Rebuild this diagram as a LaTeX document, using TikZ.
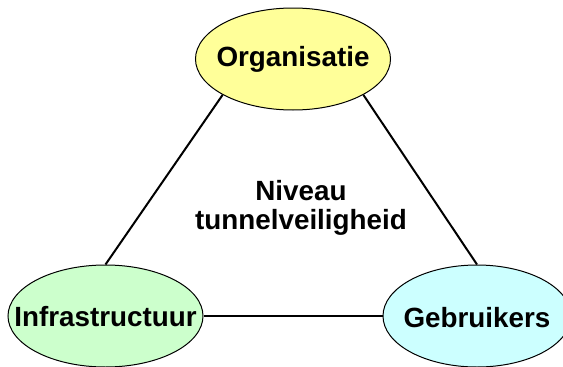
\documentclass[tikz,border=0pt]{standalone}
\usepackage{fontspec}
\setmainfont{Liberation Sans}
\usetikzlibrary{shapes.geometric}
\definecolor{orgfill}{HTML}{FFFF99}
\definecolor{infrafill}{HTML}{CCFFCC}
\definecolor{gebfill}{HTML}{CCFFFF}
\tikzset{
  ell/.style={ellipse, draw=black, line width=1pt, inner sep=0pt, minimum height=102pt},
  txt/.style={font=\fontsize{27.8}{31}\selectfont\bfseries, inner sep=0pt, align=center},
  conn/.style={draw=black, line width=2pt}
}
\begin{document}
\begin{tikzpicture}[x=1pt,y=-1pt]
\useasboundingbox (0,0) rectangle (563,367);
\node[ell, fill=orgfill, minimum width=195pt] (org) at (293,59) {};
\node[ell, fill=infrafill, minimum width=195pt] (infra) at (105.5,316) {};
\node[ell, fill=gebfill, minimum width=188pt] (geb) at (477,316) {};
\node[txt] (orgT) at (org) {Organisatie};
\node[txt] (infraT) at ([yshift=-1pt]infra) {Infrastructuur};
\node[txt] (gebT) at ([yshift=-2pt]geb) {Gebruikers};
\node[txt, font=\fontsize{27.8}{29}\selectfont\bfseries] (niveau) at (301,208) {Niveau\\tunnelveiligheid};
\draw[conn] (infra.north) -- (org.207);
\draw[conn] (geb.north) -- (org.333);
\draw[conn] (infra.east) -- (geb.west);
\end{tikzpicture}
\end{document}
